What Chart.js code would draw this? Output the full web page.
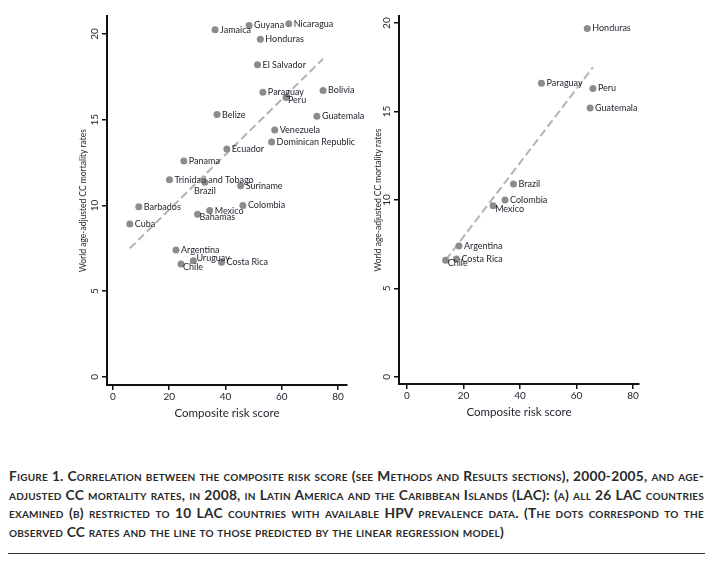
<!DOCTYPE html>
<html lang="en">
<head>
<meta charset="UTF-8">
<title>Composite risk score and CC mortality in LAC</title>
<script src="https://cdn.jsdelivr.net/npm/chart.js"></script>
<style>
  body { margin: 0; background: #fff; width: 717px; height: 562px; position: relative; overflow: hidden; font-family: Lato, sans-serif; }
  canvas { position: absolute; top: 0; }
  #chartA { left: 0; }
  #chartB { left: 360px; }
  .caption { position: absolute; left: 9px; top: 467px; width: 695px; font-weight: bold; font-variant: small-caps; font-size: 13.75px; letter-spacing: 0.22px; line-height: 18.6px; color: #2a2a2a; }
  .caption div { text-align: justify; text-align-last: justify; white-space: nowrap; }
  .caption div.last { text-align-last: left; }
  .rule { position: absolute; left: 8px; top: 553px; width: 697px; border-top: 1.5px solid #333; }
</style>
</head>
<body>
<canvas id="chartA" width="385" height="440"></canvas>
<canvas id="chartB" width="357" height="440"></canvas>
<div class="caption">
  <div>Figure 1. Correlation between the composite risk score (see Methods and Results sections), 2000-2005, and age-</div>
  <div>adjusted CC mortality rates, in 2008, in Latin America and the Caribbean Islands (LAC): (a) all 26 LAC countries</div>
  <div>examined (b) restricted to 10 LAC countries with available HPV prevalence data. (The dots correspond to the</div>
  <div class="last">observed CC rates and the line to those predicted by the linear regression model)</div>
</div>
<div class="rule"></div>

<script>
// (a) all 26 LAC countries
const countriesA = ['Jamaica', 'Guyana', 'Nicaragua', 'Honduras', 'El Salvador', 'Paraguay', 'Peru', 'Bolivia',
  'Belize', 'Guatemala', 'Venezuela', 'Dominican Republic', 'Ecuador', 'Panama', 'Trinidad and Tobago', 'Suriname',
  'Brazil', 'Barbados', 'Cuba', 'Mexico', 'Bahamas', 'Colombia', 'Argentina', 'Uruguay', 'Chile', 'Costa Rica'];
const riskA = [36.3, 48.4, 62.5, 52.4, 51.4, 53.3, 61.5, 74.7, 37.0, 72.5, 57.5, 56.4, 40.5, 25.2, 20.1, 45.4,
  32.7, 9.2, 6.0, 34.4, 30.1, 46.2, 22.4, 28.6, 24.2, 38.6];
const rateA = [20.25, 20.5, 20.6, 19.7, 18.2, 16.6, 16.3, 16.7, 15.3, 15.2, 14.4, 13.7, 13.3, 12.6, 11.5, 11.15,
  11.35, 9.93, 8.92, 9.7, 9.49, 10.0, 7.4, 6.78, 6.59, 6.69];
// predicted line (ends)
const fitRiskA = [6.0, 74.7];
const fitRateA = [7.5, 18.55];

// (b) 10 countries with HPV prevalence data
const countriesB = ['Honduras', 'Paraguay', 'Peru', 'Guatemala', 'Brazil', 'Colombia', 'Mexico', 'Argentina', 'Costa Rica', 'Chile'];
const riskB = [63.8, 47.6, 65.8, 64.8, 37.7, 34.7, 30.5, 18.4, 17.5, 13.7];
const rateB = [19.7, 16.6, 16.3, 15.2, 10.9, 10.0, 9.68, 7.4, 6.67, 6.59];
const fitRiskB = [13.7, 65.8];
const fitRateB = [6.6, 17.5];

const xTicks = [0, 20, 40, 60, 80];
const yTicks = [0, 5, 10, 15, 20];

// marker label positions (clock, like stata mlabvpos), default 3
const labelPosA = { 'Peru': 4, 'Brazil': 6, 'Bahamas': 4, 'Uruguay': 2, 'Chile': 4 };
const labelPosB = { 'Mexico': 4, 'Chile': 4 };

const ink = '#1f1f2b';

function labelPlugin(names, posMap) {
  return {
    id: 'markerLabels',
    afterDatasetsDraw(chart) {
      const ctx = chart.ctx;
      const meta = chart.getDatasetMeta(1);
      ctx.save();
      ctx.font = '9px Lato';
      ctx.fillStyle = ink;
      meta.data.forEach((pt, i) => {
        const pos = posMap[names[i]] || 3;
        let x = pt.x, y = pt.y;
        if (pos === 3) { ctx.textAlign = 'left'; ctx.textBaseline = 'middle'; x += 5; }
        else if (pos === 4) { ctx.textAlign = 'left'; ctx.textBaseline = 'top'; x += 2; y -= 1.5; }
        else if (pos === 2) { ctx.textAlign = 'left'; ctx.textBaseline = 'bottom'; x += 3; y += 2; }
        else if (pos === 6) { ctx.textAlign = 'center'; ctx.textBaseline = 'top'; y += 4; }
        ctx.fillText(names[i], x, y);
      });
      ctx.restore();
    }
  };
}

function makePanel(id, names, xs, ys, fitX, fitY, posMap, box) {
  const points = xs.map((x, i) => ({ x: x, y: ys[i] }));
  const fit = fitX.map((x, i) => ({ x: x, y: fitY[i] }));
  return new Chart(document.getElementById(id), {
    type: 'scatter',
    data: {
      datasets: [
        { type: 'line', data: fit, borderColor: '#b3b3b3', borderWidth: 2, borderDash: [8, 4], pointRadius: 0, fill: false, order: 2 },
        { data: points, pointRadius: 3.5, pointBackgroundColor: '#8c8c8c', pointBorderWidth: 0, order: 1 }
      ]
    },
    options: {
      responsive: false,
      animation: false,
      devicePixelRatio: 1,
      layout: { padding: box.padding },
      plugins: { legend: { display: false }, tooltip: { enabled: false } },
      scales: {
        x: {
          type: 'linear', min: box.xMin, max: box.xMax,
          afterBuildTicks: s => { s.ticks = xTicks.map(v => ({ value: v })); },
          afterFit: s => { s.height = 39; },
          grid: { display: true, drawOnChartArea: false, drawTicks: true, tickLength: 5, color: '#111', lineWidth: 1.5 },
          border: { display: true, color: '#111', width: 2 },
          ticks: { font: { family: 'Lato', size: 10 }, color: ink, padding: 1, maxRotation: 0 },
          title: { display: true, text: 'Composite risk score', font: { family: 'Lato', size: 11.5 }, color: ink, padding: { top: 0, bottom: 4 } }
        },
        y: {
          type: 'linear', min: box.yMin, max: box.yMax,
          afterBuildTicks: s => { s.ticks = yTicks.map(v => ({ value: v })); },
          afterFit: s => { s.width = box.yWidth; },
          grid: { display: true, drawOnChartArea: false, drawTicks: true, tickLength: 5, color: '#111', lineWidth: 1.5 },
          border: { display: true, color: '#111', width: 2 },
          ticks: { font: { family: 'Lato', size: 10 }, color: ink, padding: 1, minRotation: 90, maxRotation: 90, crossAlign: 'center' },
          title: { display: true, text: 'World age-adjusted CC mortality rates', font: { family: 'Lato', size: 8.5 }, color: ink, padding: { top: 4, bottom: 0 } }
        }
      }
    },
    plugins: [labelPlugin(names, posMap)]
  });
}

makePanel('chartA', countriesA, riskA, rateA, fitRiskA, fitRateA, labelPosA, {
  padding: { left: 74, right: 38, top: 16, bottom: 16 }, yWidth: 33,
  xMin: -2.1, xMax: 83.2, yMin: -0.47, yMax: 21.05
});
makePanel('chartB', countriesB, riskB, rateB, fitRiskB, fitRateB, labelPosB, {
  padding: { left: 9, right: 78, top: 16, bottom: 17 }, yWidth: 30,
  xMin: -2.8, xMax: 82.1, yMin: -0.4, yMax: 20.4
});
</script>
</body>
</html>
